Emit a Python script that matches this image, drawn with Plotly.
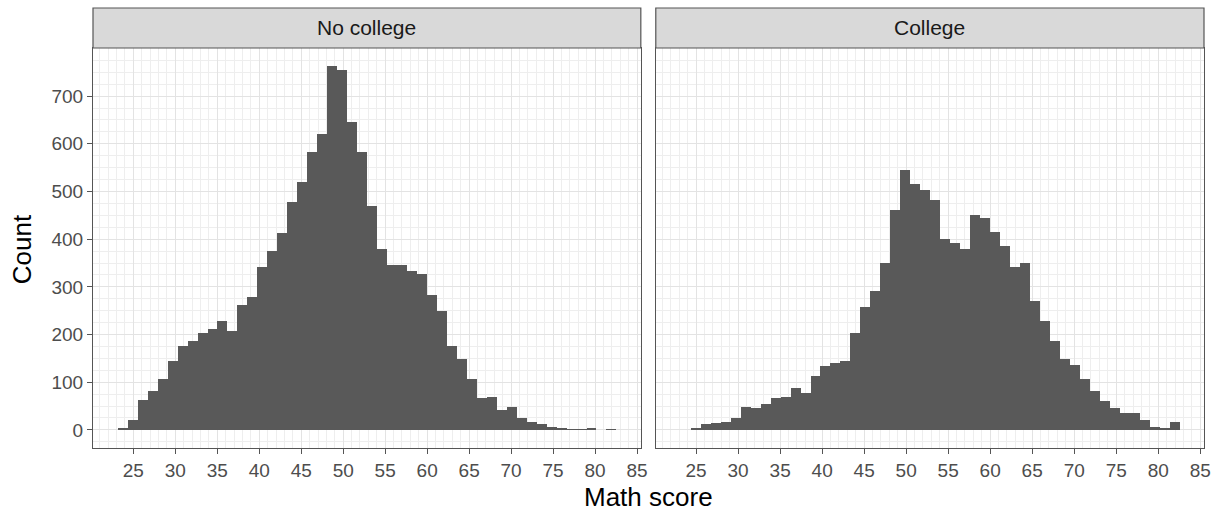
import plotly.graph_objects as go

# Histogram: 50 bins shared by both facets
bin_first_center = 23.74
bin_width = 1.188

facets = ["No college", "College"]

no_college_counts = [4, 20, 62, 82, 107, 145, 175, 187, 204, 212,
                     228, 207, 261, 278, 341, 375, 412, 478, 520, 582,
                     620, 763, 754, 646, 582, 470, 379, 345, 345, 333,
                     328, 283, 249, 175, 149, 107, 66, 70, 41, 49,
                     24, 16, 12, 7, 3, 1, 1, 2, 0, 1]

college_counts = [0, 4, 12, 14, 16, 24, 49, 45, 54, 66,
                  70, 87, 78, 112, 133, 141, 145, 204, 258, 291,
                  349, 462, 546, 516, 503, 482, 400, 391, 379, 450,
                  445, 416, 386, 341, 349, 270, 228, 187, 149, 137,
                  107, 82, 61, 45, 36, 36, 20, 6, 3, 16]

x_ticks = list(range(25, 90, 5))
y_ticks = list(range(0, 800, 100))

centers = [bin_first_center + i * bin_width for i in range(len(no_college_counts))]

W, H = 1223, 514
ml, mr, mt, mb = 93, 16, 48, 66
pw = W - ml - mr
ph = H - mt - mb

left_dom = [0, (642.3 - ml) / pw]
right_dom = [(657.3 - ml) / pw, 1]

BAR = "#595959"
GRID_MAJ = "#E3E3E3"
GRID_MIN = "#EEEEEE"
BORDER = "#555555"
TICKTXT = "#4D4D4D"
FONT = "Liberation Sans, Arial, sans-serif"

fig = go.Figure()
fig.add_trace(go.Bar(x=centers, y=no_college_counts, width=bin_width,
                     marker=dict(color=BAR, line=dict(width=0)),
                     xaxis="x", yaxis="y", showlegend=False))
fig.add_trace(go.Bar(x=centers, y=college_counts, width=bin_width,
                     marker=dict(color=BAR, line=dict(width=0)),
                     xaxis="x2", yaxis="y2", showlegend=False))

xrange = [20.2, 85.45]
yrange = [-38, 801]

xcommon = dict(range=xrange, tickmode="array", tickvals=x_ticks,
               ticktext=[str(v) for v in x_ticks],
               showgrid=True, gridcolor=GRID_MAJ, gridwidth=1.3,
               minor=dict(dtick=1, tick0=0, showgrid=True, gridcolor=GRID_MIN, gridwidth=1, ticks=""),
               showline=True, linecolor=BORDER, linewidth=1.2, mirror=True,
               ticks="outside", ticklen=5, tickcolor=BORDER, tickwidth=1.2,
               tickfont=dict(size=19, color=TICKTXT, family=FONT),
               zeroline=False, fixedrange=True)
ycommon = dict(range=yrange, tickmode="array", tickvals=y_ticks,
               showgrid=True, gridcolor=GRID_MAJ, gridwidth=1.3,
               minor=dict(dtick=25, tick0=0, showgrid=True, gridcolor=GRID_MIN, gridwidth=1, ticks=""),
               showline=True, linecolor=BORDER, linewidth=1.2, mirror=True,
               zeroline=False, fixedrange=True)

fig.update_layout(
    width=W, height=H,
    margin=dict(l=ml, r=mr, t=mt, b=mb),
    paper_bgcolor="white", plot_bgcolor="white",
    bargap=0,
    font=dict(family=FONT),
    xaxis=dict(domain=left_dom, anchor="y", **xcommon),
    xaxis2=dict(domain=right_dom, anchor="y2", **xcommon),
    yaxis=dict(domain=[0, 1], anchor="x", ticks="outside", ticklen=5,
               tickcolor=BORDER, tickwidth=1.2,
               tickfont=dict(size=19, color=TICKTXT, family=FONT), **ycommon),
    yaxis2=dict(domain=[0, 1], anchor="x2", showticklabels=False, ticks="", **ycommon),
)

strip_h = 40 / ph
shapes = []
annotations = []
for dom, label in zip([left_dom, right_dom], facets):
    shapes.append(dict(type="rect", xref="paper", yref="paper",
                       x0=dom[0], x1=dom[1], y0=1, y1=1 + strip_h,
                       fillcolor="#D9D9D9", line=dict(color=BORDER, width=1.2), layer="above"))
    annotations.append(dict(text=label, xref="paper", yref="paper",
                            x=(dom[0] + dom[1]) / 2, y=1 + strip_h / 2,
                            xanchor="center", yanchor="middle", showarrow=False,
                            font=dict(size=21, color="#1A1A1A", family=FONT)))

annotations.append(dict(text="Math score", xref="paper", yref="paper",
                        x=(650 - ml) / pw, y=(448 - 497) / ph,
                        xanchor="center", yanchor="middle", showarrow=False,
                        font=dict(size=26, color="#000000", family=FONT)))
annotations.append(dict(text="Count", xref="paper", yref="paper",
                        x=(22 - ml) / pw, y=(448 - 249) / ph, textangle=-90,
                        xanchor="center", yanchor="middle", showarrow=False,
                        font=dict(size=26, color="#000000", family=FONT)))

fig.update_layout(shapes=shapes, annotations=annotations)
fig.write_html("out.html")
